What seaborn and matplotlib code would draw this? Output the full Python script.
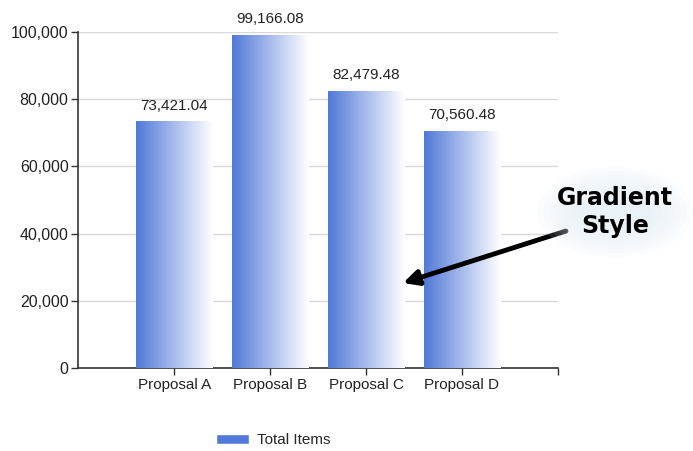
import numpy as np
import matplotlib
matplotlib.use("Agg")
import matplotlib.pyplot as plt
from matplotlib.patches import Patch, Ellipse
from matplotlib.colors import LinearSegmentedColormap
import seaborn as sns

# chart data
proposals = ["Proposal A", "Proposal B", "Proposal C", "Proposal D"]
totals = [73421.04, 99166.08, 82479.48, 70560.48]
y_ticks = [0, 20000, 40000, 60000, 80000, 100000]

blue = "#5279d9"
grad = LinearSegmentedColormap.from_list("grad", [blue, "#ffffff"])

sns.set_style("white")
plt.rcParams["font.family"] = ["Liberation Sans", "DejaVu Sans"]

fig = plt.figure(figsize=(6.93, 4.51), dpi=100)
ax = fig.add_axes([0.113, 0.184, 0.692, 0.745])

sns.barplot(x=proposals, y=totals, color=blue, width=0.8, ax=ax, zorder=3)

# gradient fill for every bar, clipped to the bar shape
g = np.linspace(0, 1, 256).reshape(1, -1)
for p in ax.patches:
    x0, y0 = p.get_x(), p.get_y()
    w, h = p.get_width(), p.get_height()
    im = ax.imshow(g, cmap=grad, aspect="auto", extent=[x0, x0 + w, y0, y0 + h],
                   zorder=3, interpolation="bilinear")
    im.set_clip_path(p)
    p.set_facecolor("none")
    p.set_edgecolor("none")

ax.set_ylim(0, 100000)
ax.set_xlim(-1, 4)

for i, v in enumerate(totals):
    ax.text(i, v + 2600, f"{v:,.2f}", ha="center", va="bottom", fontsize=11,
            color="#222222", clip_on=False)

ax.set_yticks(y_ticks)
ax.set_yticklabels([f"{t:,}" for t in y_ticks], fontsize=11.5, color="#222222")
ax.set_xticks(range(len(proposals) + 1))
ax.set_xticklabels(proposals + [""], fontsize=11, color="#222222")
ax.tick_params(axis="both", direction="out", length=5, width=1, color="#333333",
               bottom=True, left=True, pad=2)
ax.set_xlabel("")
ax.set_ylabel("")

ax.yaxis.grid(True, color="#d9d9d9", linewidth=1, zorder=0)
ax.set_axisbelow(True)
for s in ["top", "right"]:
    ax.spines[s].set_visible(False)
for s in ["left", "bottom"]:
    ax.spines[s].set_color("#333333")
    ax.spines[s].set_linewidth(1.2)

fig.legend(handles=[Patch(facecolor=blue, label="Total Items")], loc="center",
           bbox_to_anchor=(0.394, 0.024), frameon=False, fontsize=11,
           handlelength=2.2, handleheight=0.6, handletextpad=0.5)

# soft glow behind the callout text
for k in range(8):
    fig.patches.append(Ellipse((615 / 693, 1 - 212 / 451), (155 - 12 * k) / 693,
                               (90 - 8 * k) / 451, transform=fig.transFigure,
                               facecolor="#e2eef6", edgecolor="none", alpha=0.12))

# annotation
ax.annotate("", xy=(403, 168), xycoords="figure pixels",
            xytext=(566, 220), textcoords="figure pixels",
            arrowprops=dict(arrowstyle="-|>,head_length=0.9,head_width=0.45",
                            color="black", lw=3.5, shrinkA=0, shrinkB=0),
            annotation_clip=False)
fig.text(615 / 693, 1 - 212 / 451, "Gradient\nStyle", ha="center", va="center",
         fontsize=17, fontweight="bold", family="DejaVu Sans", linespacing=1.2,
         color="black")

fig.savefig("out.png", dpi=100)
